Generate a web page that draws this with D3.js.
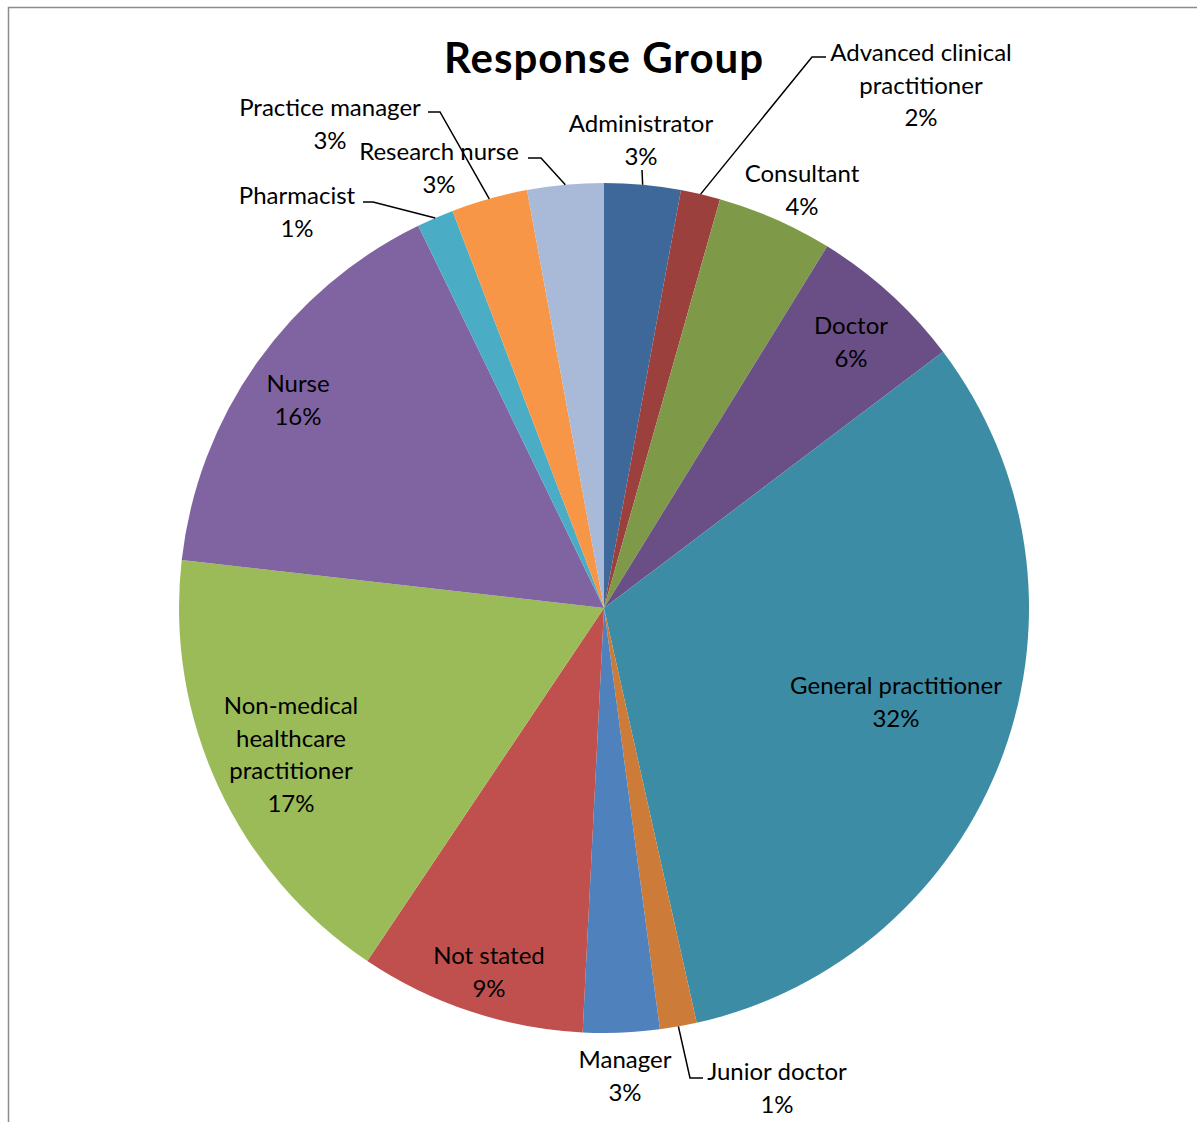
<!DOCTYPE html>
<html>
<head>
<meta charset="utf-8">
<script src="https://cdn.jsdelivr.net/npm/d3@7"></script>
<style>
  html, body { margin: 0; padding: 0; background: #fff; }
  svg { display: block; }
  text { font-family: Lato, "Open Sans", sans-serif; fill: #000; }
</style>
</head>
<body>
<div id="chart"></div>
<script>
// Response groups, clockwise from 12 o'clock
const categories = [
  "Administrator", "Advanced clinical practitioner", "Consultant", "Doctor",
  "General practitioner", "Junior doctor", "Manager", "Not stated",
  "Non-medical healthcare practitioner", "Nurse", "Pharmacist",
  "Practice manager", "Research nurse"
];
// Share of respondents (%)
const shares = [2.9, 1.5, 4.4, 5.9, 31.8, 1.4, 2.9, 8.6, 17.4, 16.0, 1.4, 2.9, 2.9];
// Line breaks used in each data label
const labelLines = [
  ["Administrator"], ["Advanced clinical", "practitioner"], ["Consultant"], ["Doctor"],
  ["General practitioner"], ["Junior doctor"], ["Manager"], ["Not stated"],
  ["Non-medical", "healthcare", "practitioner"], ["Nurse"], ["Pharmacist"],
  ["Practice manager"], ["Research nurse"]
];
const colors = [
  "#3E6899", "#9C403D", "#7E9A48", "#6A4F86", "#3B8CA4", "#CC7C38", "#4F81BD",
  "#C0504D", "#9BBB59", "#8064A2", "#4BACC6", "#F79646", "#A9B9D8"
];

// Label placement: text centre x, first baseline y; optional leader polyline (label end, elbow)
const labelPlacement = {
  "Administrator": { x: 641, y: 132, leader: [[642, 170]] },
  "Advanced clinical practitioner": { x: 921, y: 61, leader: [[826, 57], [812, 57]] },
  "Consultant": { x: 802, y: 182 },
  "Doctor": { x: 851, y: 334 },
  "General practitioner": { x: 896, y: 694 },
  "Junior doctor": { x: 777, y: 1080, leader: [[703, 1078], [690, 1078]] },
  "Manager": { x: 625, y: 1068 },
  "Not stated": { x: 489, y: 964 },
  "Non-medical healthcare practitioner": { x: 291, y: 714 },
  "Nurse": { x: 298, y: 392 },
  "Pharmacist": { x: 297, y: 204, leader: [[363, 202], [373, 202]] },
  "Practice manager": { x: 330, y: 116, leader: [[428, 112], [440, 112]] },
  "Research nurse": { x: 439, y: 160, leader: [[528, 158], [541, 158]] }
};

const width = 1197, height = 1122;
const cx = 604, cy = 608, radius = 425;
const lineHeight = 32.5;

const svg = d3.select("#chart").append("svg")
  .attr("width", width).attr("height", height);

// Chart area frame
svg.append("rect")
  .attr("x", 8.5).attr("y", 7.5)
  .attr("width", 1400).attr("height", 1400)
  .attr("fill", "none").attr("stroke", "#8c8c8c").attr("stroke-width", 1.5);

svg.append("text")
  .attr("x", 604).attr("y", 73)
  .attr("text-anchor", "middle")
  .style("font-size", "42px").style("font-weight", "bold")
  .style("letter-spacing", "1px")
  .text("Response Group");

const data = categories.map((c, i) => ({ name: c, value: shares[i], lines: labelLines[i], color: colors[i] }));
const total = d3.sum(data, d => d.value);

const pie = d3.pie().sort(null).value(d => d.value);
const arc = d3.arc().innerRadius(0).outerRadius(radius);
const arcs = pie(data);

const g = svg.append("g").attr("transform", `translate(${cx},${cy})`);

g.selectAll("path.slice")
  .data(arcs)
  .join("path")
  .attr("class", "slice")
  .attr("d", arc)
  .attr("fill", d => d.data.color);

// Leader lines from label to the slice edge at its mid-angle
const leaderLine = d3.line();
arcs.forEach(d => {
  const p = labelPlacement[d.data.name];
  if (!p.leader) return;
  const mid = (d.startAngle + d.endAngle) / 2;
  const [ex, ey] = d3.pointRadial(mid, radius);
  const pts = p.leader.concat([[cx + ex, cy + ey]]);
  svg.append("path")
    .attr("d", leaderLine(pts))
    .attr("fill", "none")
    .attr("stroke", "#000")
    .attr("stroke-width", 1.5);
});

// Data labels: category name and rounded percentage
arcs.forEach(d => {
  const p = labelPlacement[d.data.name];
  const pct = Math.round(+(d.data.value / total * 100).toFixed(6)) + "%";
  const lines = d.data.lines.concat([pct]);
  const t = svg.append("text")
    .attr("text-anchor", "middle")
    .style("font-size", "24px");
  lines.forEach((ln, i) => {
    t.append("tspan")
      .attr("x", p.x)
      .attr("y", p.y + i * lineHeight)
      .text(ln);
  });
});
</script>
</body>
</html>
